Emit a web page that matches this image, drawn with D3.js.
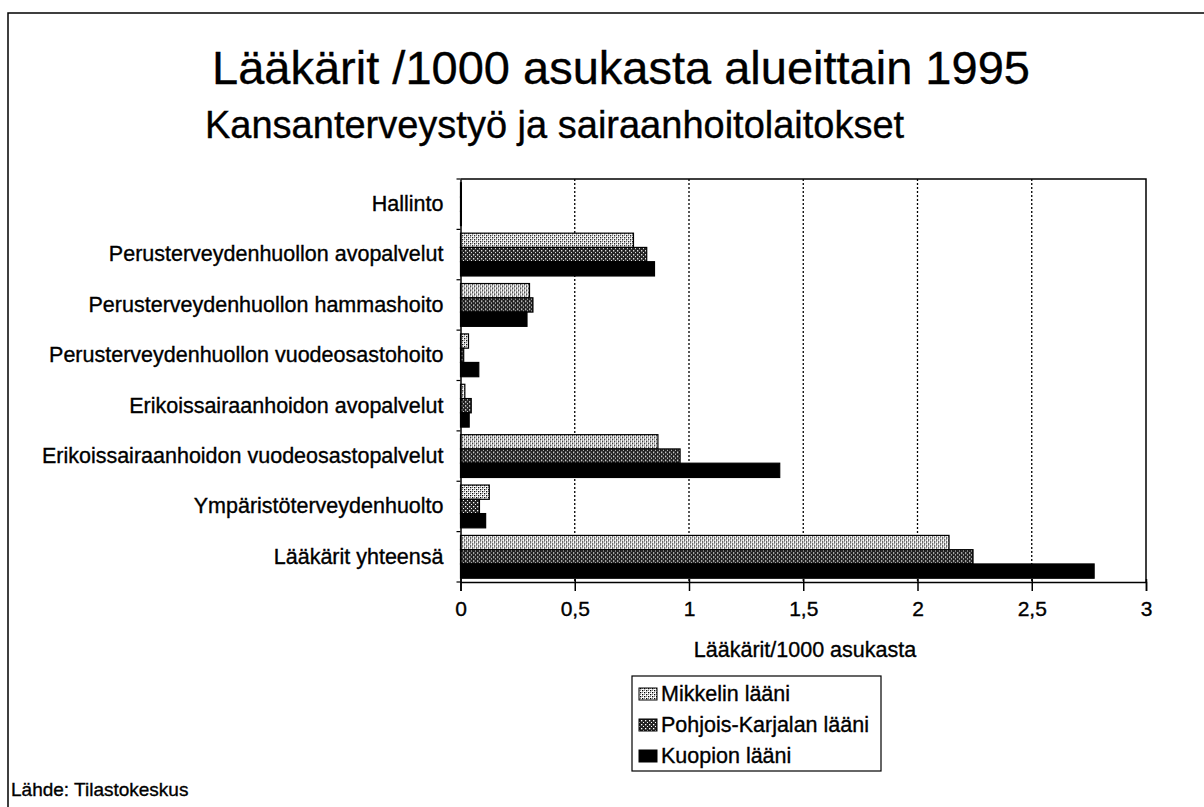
<!DOCTYPE html>
<html lang="fi">
<head>
<meta charset="utf-8">
<title>Lääkärit /1000 asukasta alueittain 1995</title>
<script src="https://cdn.jsdelivr.net/npm/d3@7"></script>
<style>
  html, body { margin: 0; padding: 0; background: #fff; }
  svg { display: block; font-family: "Liberation Sans", Arial, sans-serif; }
  svg text { fill: #000; stroke: #000; stroke-width: 0.35px; }
</style>
</head>
<body>
<svg id="chart" width="1204" height="807"></svg>
<script>
// Tehtäväalueet (pystyakselin luokat, ylhäältä alas)
const categories = [
  "Hallinto",
  "Perusterveydenhuollon avopalvelut",
  "Perusterveydenhuollon hammashoito",
  "Perusterveydenhuollon vuodeosastohoito",
  "Erikoissairaanhoidon avopalvelut",
  "Erikoissairaanhoidon vuodeosastopalvelut",
  "Ympäristöterveydenhuolto",
  "Lääkärit yhteensä"
];

// Sarjojen nimet
const seriesNames = ["Mikkelin lääni", "Pohjois-Karjalan lääni", "Kuopion lääni"];

// Lääkärit / 1000 asukasta
const mikkeli        = [0.004, 0.757, 0.302, 0.035, 0.019, 0.864, 0.126, 2.138];
const pohjoisKarjala = [0.004, 0.815, 0.317, 0.014, 0.047, 0.961, 0.083, 2.243];
const kuopio         = [0.004, 0.849, 0.291, 0.080, 0.038, 1.397, 0.110, 2.773];

// Vaaka-akselin jakoviivat
const xTicks = [0, 0.5, 1, 1.5, 2, 2.5, 3];

const seriesValues = [mikkeli, pohjoisKarjala, kuopio];

const svg = d3.select("#chart");
const defs = svg.append("defs");

// Rasterikuviot pylväille
const pLight = defs.append("pattern")
  .attr("id", "pat-light").attr("patternUnits", "userSpaceOnUse")
  .attr("width", 4).attr("height", 4);
pLight.append("rect").attr("width", 4).attr("height", 4).attr("fill", "#fff");
pLight.append("rect").attr("x", 0).attr("y", 0).attr("width", 1.3).attr("height", 1.3).attr("fill", "#000");
pLight.append("rect").attr("x", 2).attr("y", 2).attr("width", 1.3).attr("height", 1.3).attr("fill", "#000");
pLight.append("rect").attr("x", 2).attr("y", 0).attr("width", 1).attr("height", 1).attr("fill", "#777");
pLight.append("rect").attr("x", 0).attr("y", 2).attr("width", 1).attr("height", 1).attr("fill", "#777");

const pDark = defs.append("pattern")
  .attr("id", "pat-dark").attr("patternUnits", "userSpaceOnUse")
  .attr("width", 4).attr("height", 4);
pDark.append("rect").attr("width", 4).attr("height", 4).attr("fill", "#222");
pDark.append("rect").attr("x", 1).attr("y", 1).attr("width", 1.3).attr("height", 1.3).attr("fill", "#fff");
pDark.append("rect").attr("x", 3).attr("y", 3).attr("width", 1.3).attr("height", 1.3).attr("fill", "#fff");

const fills = ["url(#pat-light)", "url(#pat-dark)", "#000"];

// Kehys (vain ylä- ja vasen reuna näkyvät)
svg.append("path")
  .attr("d", "M8,807 L8,13 L1204,13")
  .attr("fill", "none").attr("stroke", "#000").attr("stroke-width", 1.5);

// Otsikot
svg.append("text")
  .attr("x", 621).attr("y", 84)
  .attr("text-anchor", "middle")
  .attr("font-size", 47)
  .text("Lääkärit /1000 asukasta alueittain 1995");

svg.append("text")
  .attr("x", 205).attr("y", 138)
  .attr("font-size", 38)
  .text("Kansanterveystyö ja sairaanhoitolaitokset");

// Piirtoalue
const plot = { left: 460.5, right: 1146, top: 179, bottom: 582 };

const x = d3.scaleLinear().domain([0, 3]).range([plot.left, plot.right]);
const y = d3.scaleBand().domain(categories).range([plot.top, plot.bottom]).paddingInner(0.15).paddingOuter(0.075);
const ySub = d3.scaleBand().domain(d3.range(seriesNames.length)).range([0, y.bandwidth()]);

// Pisteviivoitetut pystyapuviivat
svg.append("g")
  .selectAll("line")
  .data(xTicks.filter(t => t > 0 && t < 3))
  .join("line")
  .attr("x1", d => x(d)).attr("x2", d => x(d))
  .attr("y1", plot.top).attr("y2", plot.bottom)
  .attr("stroke", "#000").attr("stroke-width", 1.3)
  .attr("stroke-dasharray", "2,2");

// Pylväät
const groups = svg.append("g")
  .selectAll("g")
  .data(categories)
  .join("g")
  .attr("transform", d => `translate(0,${y(d)})`);

groups.selectAll("rect")
  .data((c, i) => seriesValues.map((vals, s) => ({ s, v: vals[i] })))
  .join("rect")
  .attr("x", x(0))
  .attr("y", d => ySub(d.s))
  .attr("width", d => x(d.v) - x(0))
  .attr("height", ySub.bandwidth())
  .attr("fill", d => fills[d.s])
  .attr("stroke", "#000")
  .attr("stroke-width", 1.2);

// Piirtoalueen reunat (ylä ja oikea)
svg.append("path")
  .attr("d", `M${plot.left},${plot.top} L${plot.right},${plot.top} L${plot.right},${plot.bottom}`)
  .attr("fill", "none").attr("stroke", "#000").attr("stroke-width", 1.5);

// Vaaka-akseli
const fmt = d => String(d).replace(".", ",");
const xAxis = svg.append("g")
  .attr("transform", `translate(0,${plot.bottom})`)
  .call(d3.axisBottom(x).tickValues(xTicks).tickFormat(fmt).tickSize(9).tickPadding(10));
xAxis.select(".domain").attr("stroke-width", 1.5);
xAxis.selectAll(".tick line").attr("stroke-width", 1.5).attr("y1", -3);
xAxis.selectAll(".tick text")
  .attr("font-family", "Liberation Sans, Arial, sans-serif")
  .attr("font-size", 21).attr("fill", "#000");

// Pystyakseli
const yAxis = svg.append("g")
  .attr("transform", `translate(${plot.left},0)`)
  .call(d3.axisLeft(y).tickSize(0).tickPadding(17));
yAxis.select(".domain").attr("stroke-width", 1.5);
yAxis.selectAll(".tick text")
  .attr("font-family", "Liberation Sans, Arial, sans-serif")
  .attr("font-size", 21.5).attr("fill", "#000");

// Luokkien väliset jakomerkit
svg.append("g")
  .selectAll("line")
  .data(d3.range(categories.length + 1))
  .join("line")
  .attr("x1", plot.left - 4).attr("x2", plot.left)
  .attr("y1", i => plot.top + i * y.step())
  .attr("y2", i => plot.top + i * y.step())
  .attr("stroke", "#000").attr("stroke-width", 1.2);

// Akselin otsikko
svg.append("text")
  .attr("x", 805).attr("y", 657)
  .attr("text-anchor", "middle")
  .attr("font-size", 21.5)
  .text("Lääkärit/1000 asukasta");

// Selite
const legend = svg.append("g").attr("transform", "translate(632,676)");
legend.append("rect")
  .attr("width", 249).attr("height", 95)
  .attr("fill", "#fff").attr("stroke", "#000").attr("stroke-width", 1.2);

const items = legend.selectAll("g.item")
  .data(seriesNames)
  .join("g")
  .attr("class", "item")
  .attr("transform", (d, i) => `translate(0,${12 + i * 31})`);

items.append("rect")
  .attr("x", 7).attr("y", 0)
  .attr("width", 18).attr("height", 12)
  .attr("fill", (d, i) => fills[i])
  .attr("stroke", "#000").attr("stroke-width", 1);

items.append("text")
  .attr("x", 29).attr("y", 13)
  .attr("font-size", 21.5)
  .text(d => d);

// Lähde
svg.append("text")
  .attr("x", 11).attr("y", 796)
  .attr("font-size", 19)
  .text("Lähde: Tilastokeskus");
</script>
</body>
</html>
